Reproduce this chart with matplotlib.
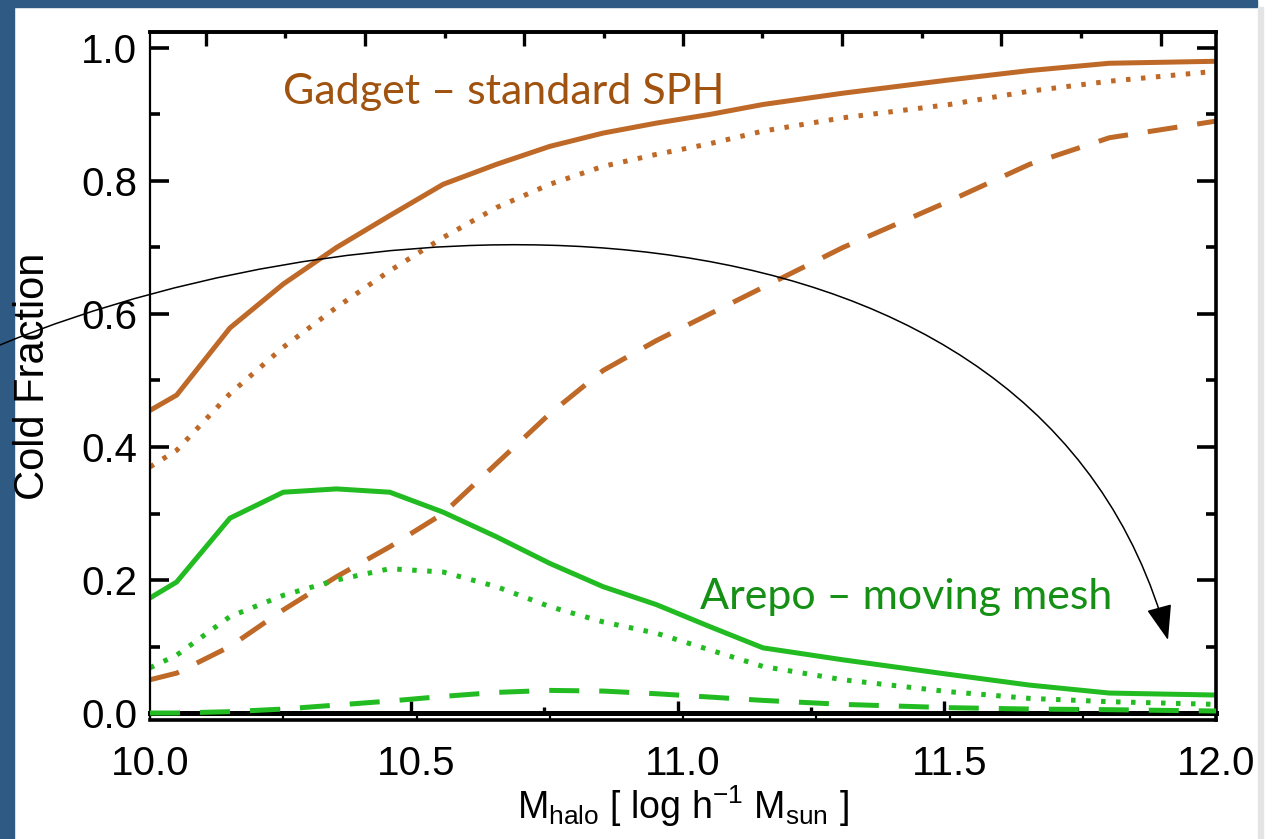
import numpy as np
import matplotlib
matplotlib.use("Agg")
import matplotlib.pyplot as plt
from matplotlib.patches import Rectangle, FancyArrowPatch
from matplotlib.path import Path
from matplotlib.ticker import MultipleLocator, FixedLocator, NullFormatter

plt.rcParams['font.family'] = ['Liberation Sans', 'DejaVu Sans']
plt.rcParams['mathtext.fontset'] = 'custom'
plt.rcParams['mathtext.rm'] = 'Liberation Sans'
plt.rcParams['mathtext.it'] = 'Liberation Sans'

# halo mass grid (log h^-1 Msun)
mhalo = [10.0, 10.05, 10.15, 10.25, 10.35, 10.45, 10.55, 10.65, 10.75,
         10.85, 10.95, 11.05, 11.15, 11.3, 11.5, 11.65, 11.8, 12.0]

# Gadget - standard SPH
gadget_solid = [0.455, 0.478, 0.579, 0.645, 0.700, 0.748, 0.795, 0.825, 0.852,
                0.872, 0.887, 0.900, 0.915, 0.932, 0.952, 0.966, 0.977, 0.980]
gadget_dotted = [0.370, 0.395, 0.480, 0.550, 0.610, 0.665, 0.715, 0.760, 0.795,
                 0.822, 0.840, 0.856, 0.875, 0.895, 0.915, 0.935, 0.950, 0.965]
gadget_dashed = [0.050, 0.060, 0.100, 0.155, 0.205, 0.250, 0.300, 0.375, 0.450,
                 0.515, 0.560, 0.600, 0.640, 0.700, 0.770, 0.825, 0.865, 0.890]

# Arepo - moving mesh
arepo_solid = [0.173, 0.197, 0.293, 0.332, 0.337, 0.332, 0.302, 0.265, 0.225,
               0.190, 0.163, 0.130, 0.098, 0.080, 0.058, 0.042, 0.030, 0.027]
arepo_dotted = [0.068, 0.087, 0.145, 0.177, 0.200, 0.217, 0.212, 0.190, 0.160,
                0.137, 0.120, 0.095, 0.070, 0.050, 0.032, 0.022, 0.017, 0.013]
arepo_dashed = [0.000, 0.000, 0.002, 0.006, 0.012, 0.018, 0.025, 0.031, 0.034,
                0.033, 0.029, 0.024, 0.019, 0.013, 0.008, 0.006, 0.005, 0.003]

brown = '#be6928'
green = '#22bb22'

W, H = 1272, 839
fig = plt.figure(figsize=(W / 100, H / 100), dpi=100, facecolor='white')

# slide background pieces
blue = '#2e5a84'
fig.patches.append(Rectangle((0, 0), 14 / W, 1, transform=fig.transFigure,
                             color=blue, zorder=0))
fig.patches.append(Rectangle((0, 1 - 7 / H), 1257 / W, 7 / H, transform=fig.transFigure,
                             color=blue, zorder=0))
fig.patches.append(Rectangle((1258 / W, 0), 5 / W, 1 - 7 / H, transform=fig.transFigure,
                             color='#e4e4e4', zorder=0))

ax = fig.add_axes([150 / W, 1 - 720 / H, 1066 / W, 688 / H])
ax.set_xlim(10.0, 12.0)
ax.set_ylim(-0.0105, 1.024)

lw = 3.6
ax.plot(mhalo, gadget_solid, color=brown, lw=lw, solid_capstyle='butt')
ax.plot(mhalo, gadget_dotted, color=brown, lw=lw, ls=(0, (0.9, 2.1)))
ax.plot(mhalo, gadget_dashed, color=brown, lw=lw, ls=(0, (6, 4)))
ax.plot(mhalo, arepo_solid, color=green, lw=lw, solid_capstyle='butt')
ax.plot(mhalo, arepo_dotted, color=green, lw=lw, ls=(0, (0.9, 2.1)))
ax.plot(mhalo, arepo_dashed, color=green, lw=lw, ls=(0, (6, 4)), zorder=5)

ax.spines['left'].set_linewidth(1.6)
for s in ['top', 'right', 'bottom']:
    ax.spines[s].set_linewidth(2.6)

# y ticks, both sides inward
ax.yaxis.set_major_locator(MultipleLocator(0.2))
ax.yaxis.set_minor_locator(MultipleLocator(0.1))
ax.yaxis.set_major_formatter(matplotlib.ticker.FormatStrFormatter('%.1f'))
ax.tick_params(axis='y', which='major', direction='in', length=14, width=2.6,
               left=True, right=True, labelsize=29, pad=9)
ax.tick_params(axis='y', which='minor', direction='in', length=7, width=2.6,
               left=True, right=True)

# x ticks on the box bottom
ax.xaxis.set_major_locator(MultipleLocator(0.5))
ax.xaxis.set_minor_locator(MultipleLocator(0.25))
ax.xaxis.set_major_formatter(matplotlib.ticker.FormatStrFormatter('%.1f'))
ax.tick_params(axis='x', which='both', direction='in', length=3, width=1.6,
               top=False, labelsize=29, pad=18)

# top axis ticks
top = ax.secondary_xaxis('top')
top.xaxis.set_major_locator(FixedLocator([10.105, 10.404, 10.702, 11.0, 11.299, 11.597, 11.896]))
top.xaxis.set_minor_locator(FixedLocator([10.254, 10.553, 10.851, 11.149, 11.448, 11.746]))
top.xaxis.set_major_formatter(NullFormatter())
top.tick_params(axis='x', which='major', direction='in', length=10, width=2.4)
top.tick_params(axis='x', which='minor', direction='in', length=4, width=2.4)
top.spines['top'].set_linewidth(2.6)

# thick zero line with its own ticks
y0 = 0.0105 / 1.0345
zero = ax.secondary_xaxis(y0)
zero.xaxis.set_major_locator(FixedLocator([10.49, 10.99, 11.49]))
zero.xaxis.set_minor_locator(FixedLocator([10.24, 10.74, 11.24, 11.74]))
zero.xaxis.set_major_formatter(NullFormatter())
zero.tick_params(axis='x', which='major', direction='in', length=9, width=2.4, labelbottom=False)
zero.tick_params(axis='x', which='minor', direction='in', length=4, width=2.4, labelbottom=False)
zero.spines['bottom'].set_linewidth(3.6)

# annotations
fig.text(283 / W, 1 - 104 / H, 'Gadget \u2013 standard SPH', color='#a0520f',
         fontsize=31, family=['Lato', 'DejaVu Sans'], ha='left', va='baseline')
fig.text(700 / W, 1 - 609 / H, 'Arepo \u2013 moving mesh', color='#159015',
         fontsize=31, family=['Lato', 'DejaVu Sans'], ha='left', va='baseline')

fig.text(683 / W, 1 - 806 / H, r'M$_{\rm halo}$ [ log h$^{-1}$ M$_{\rm sun}$ ]',
         fontsize=27, ha='center', va='center')
fig.text(33 / W, 1 - 376 / H, 'Cold Fraction', rotation=90, fontsize=30,
         ha='center', va='center')

# curved arrow drawn in figure pixels
pts = [(0, 345), (380, 188), (1040, 168), (1168, 640)]
verts = [(x / W, 1 - y / H) for x, y in pts]
path = Path(verts, [Path.MOVETO, Path.CURVE4, Path.CURVE4, Path.CURVE4])
arrow = FancyArrowPatch(path=path, arrowstyle='-|>,head_length=1.1,head_width=0.4',
                        mutation_scale=20, lw=1.1, color='black',
                        transform=fig.transFigure, zorder=10)
fig.patches.append(arrow)

fig.savefig('out.png', dpi=100, facecolor='white')
